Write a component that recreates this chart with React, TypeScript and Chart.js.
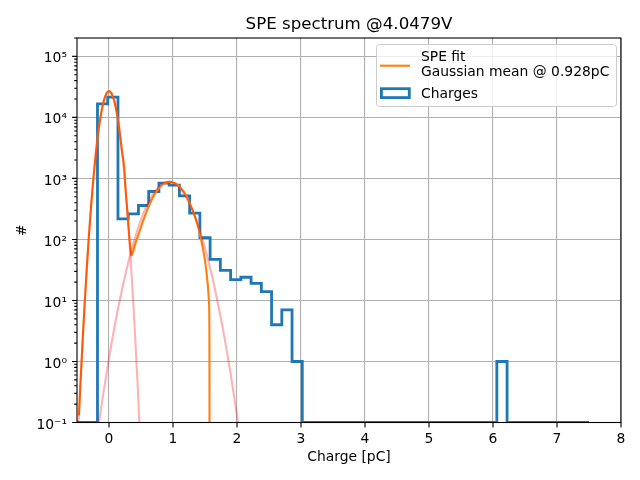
import { useEffect, useRef } from "react";
import { Chart, registerables } from "chart.js";

Chart.register(...registerables);

// ---------- data ----------
const binEdges = [
  -0.5, -0.34, -0.18, -0.02, 0.14, 0.3, 0.46, 0.62, 0.78, 0.94, 1.1, 1.26, 1.42,
  1.58, 1.74, 1.9, 2.06, 2.22, 2.38, 2.54, 2.7, 2.86, 3.02, 3.18, 3.34, 3.5, 3.66,
  3.82, 3.98, 4.14, 4.3, 4.46, 4.62, 4.78, 4.94, 5.1, 5.26, 5.42, 5.58, 5.74, 5.9,
  6.06, 6.22, 6.38, 6.54, 6.7, 6.86, 7.02, 7.18, 7.34, 7.5,
];
const binCounts = [
  0, 0, 16700, 21500, 218, 263, 360, 610, 838, 776, 516, 270, 107, 47, 31, 22, 24,
  19, 14, 4, 7, 1, 0, 0, 0, 0, 0, 0, 0, 0, 0, 0, 0, 0, 0, 0, 0, 0, 0, 0, 0, 1, 0, 0,
  0, 0, 0, 0, 0, 0,
];

const fitX = [
  -0.47, -0.44, -0.41, -0.38, -0.35, -0.32, -0.29, -0.26, -0.23, -0.2, -0.16, -0.12,
  -0.08, -0.04, 0, 0.04, 0.08, 0.12, 0.16, 0.2, 0.24, 0.26, 0.28, 0.3, 0.32, 0.34,
  0.355, 0.37, 0.4, 0.45, 0.5, 0.55, 0.6, 0.65, 0.7, 0.75, 0.8, 0.85, 0.9, 0.95, 1.0,
  1.05, 1.1, 1.15, 1.2, 1.25, 1.3, 1.35, 1.4, 1.45, 1.5, 1.53, 1.55, 1.563, 1.569,
  1.572,
];
const fitY = [
  0.13, 0.59, 2.4, 9, 30, 93, 255, 636, 1436, 2936, 6520, 12100, 18870, 24620, 26900,
  24620, 18870, 12100, 6520, 2940, 1440, 640, 355, 190, 100, 62, 55, 60, 78, 112,
  160, 225, 310, 410, 520, 630, 730, 810, 860, 880, 860, 810, 735, 640, 540, 420,
  315, 225, 150, 88, 45, 25, 15, 9, 3, 0.01,
];

const pedestalX = [
  -0.5, -0.47, -0.44, -0.41, -0.38, -0.35, -0.32, -0.29, -0.26, -0.23, -0.2, -0.16,
  -0.12, -0.08, -0.04, 0, 0.04, 0.08, 0.12, 0.16, 0.2, 0.23, 0.26, 0.29, 0.32, 0.35,
  0.38, 0.41, 0.44, 0.47, 0.5,
];
const pedestalY = [
  0.026, 0.13, 0.59, 2.4, 9, 30, 93, 255, 636, 1436, 2936, 6520, 12100, 18870,
  24620, 26900, 24620, 18870, 12100, 6520, 2936, 1436, 636, 255, 93, 30, 9, 2.4,
  0.59, 0.13, 0.026,
];

const speX = [
  -0.2, -0.16, -0.1, 0, 0.1, 0.2, 0.3, 0.4, 0.5, 0.6, 0.7, 0.8, 0.85, 0.9, 0.93,
  1.0, 1.05, 1.1, 1.2, 1.3, 1.4, 1.5, 1.6, 1.7, 1.8, 1.9, 2.0, 2.03, 2.06,
];
const speY = [
  0.048, 0.094, 0.25, 1.14, 4.4, 14.6, 41.6, 101, 212, 381, 586, 773, 839, 879, 880,
  847, 788, 705, 502, 307, 161, 72, 28, 9.2, 2.6, 0.63, 0.13, 0.08, 0.048,
];

const xTicks = [0, 1, 2, 3, 4, 5, 6, 7, 8];
const yDecades = [0.1, 1, 10, 100, 1000, 10000, 100000];
const yDecadeLabels = ["10⁻¹", "10⁰", "10¹", "10²", "10³", "10⁴", "10⁵"];

const TITLE = "SPE spectrum @4.0479V";
const X_LABEL = "Charge [pC]";
const Y_LABEL = "#";
const FIT_LABEL = ["SPE fit", "Gaussian mean @ 0.928pC"];
const HIST_LABEL = "Charges";

const X_MIN = -0.5;
const X_MAX = 8;
const Y_MIN = 0.1;
const Y_MAX = 2e5;

// ---------- styling ----------
const FONT = "DejaVu Sans";
const FS = 13.89;
const BLUE = "#1f77b4";
const ORANGE = "#ff7f0e";
const PINK = "rgba(255,0,0,0.3)";
const GRID = "#b0b0b0";

const minorYTicks: number[] = [];
yDecades.forEach((d) => {
  for (let k = 2; k <= 9; k++) {
    const v = k * d;
    if (v <= Y_MAX * 1.0001) minorYTicks.push(v);
  }
});
const isDecade = (v: number) =>
  yDecades.findIndex((d) => Math.abs(v - d) / d < 1e-6);

const mplPlugin = {
  id: "mplDecor",
  afterDraw(chart: any) {
    const { ctx, chartArea } = chart;
    const { left, right, top, bottom } = chartArea;
    const xs = chart.scales.x;
    const ys = chart.scales.y;
    ctx.save();
    // ticks
    ctx.strokeStyle = "#000";
    ctx.lineWidth = 1.1;
    ctx.beginPath();
    xTicks.forEach((v) => {
      const px = xs.getPixelForValue(v);
      ctx.moveTo(px, bottom);
      ctx.lineTo(px, bottom + 4.9);
    });
    yDecades.forEach((v) => {
      const py = ys.getPixelForValue(v);
      ctx.moveTo(left, py);
      ctx.lineTo(left - 4.9, py);
    });
    minorYTicks.forEach((v) => {
      const py = ys.getPixelForValue(v);
      ctx.moveTo(left, py);
      ctx.lineTo(left - 2.8, py);
    });
    ctx.stroke();
    // frame
    ctx.lineWidth = 1.1;
    ctx.strokeRect(left, top, right - left, bottom - top);

    // legend
    const bx = 376.5, by = 44.5, bw = 240, bh = 62, r = 3;
    ctx.beginPath();
    ctx.moveTo(bx + r, by);
    ctx.lineTo(bx + bw - r, by);
    ctx.quadraticCurveTo(bx + bw, by, bx + bw, by + r);
    ctx.lineTo(bx + bw, by + bh - r);
    ctx.quadraticCurveTo(bx + bw, by + bh, bx + bw - r, by + bh);
    ctx.lineTo(bx + r, by + bh);
    ctx.quadraticCurveTo(bx, by + bh, bx, by + bh - r);
    ctx.lineTo(bx, by + r);
    ctx.quadraticCurveTo(bx, by, bx + r, by);
    ctx.closePath();
    ctx.fillStyle = "rgba(255,255,255,0.8)";
    ctx.fill();
    ctx.strokeStyle = "#cccccc";
    ctx.lineWidth = 1;
    ctx.stroke();

    ctx.strokeStyle = ORANGE;
    ctx.lineWidth = 2.1;
    ctx.beginPath();
    ctx.moveTo(380, 65.7);
    ctx.lineTo(410, 65.7);
    ctx.stroke();

    ctx.strokeStyle = BLUE;
    ctx.lineWidth = 2.8;
    ctx.strokeRect(381.4, 88.7, 27.9, 8.9);

    ctx.fillStyle = "#000";
    ctx.font = `${FS}px "${FONT}"`;
    ctx.textBaseline = "alphabetic";
    ctx.textAlign = "left";
    ctx.fillText(FIT_LABEL[0], 421, 60.5);
    ctx.fillText(FIT_LABEL[1], 421, 76);
    ctx.fillText(HIST_LABEL, 421, 97.5);
    ctx.restore();
  },
};

export default function App() {
  const ref = useRef<HTMLCanvasElement | null>(null);

  useEffect(() => {
    if (!ref.current) return;
    const histPoints = binEdges.map((e, i) => ({
      x: e,
      y: Math.max(i < binCounts.length ? binCounts[i] : binCounts[binCounts.length - 1], Y_MIN),
    }));
    const fitPoints = fitX.map((x, i) => ({ x, y: fitY[i] }));
    const pedPoints = pedestalX.map((x, i) => ({ x, y: pedestalY[i] }));
    const spePoints = speX.map((x, i) => ({ x, y: speY[i] }));

    const tickFont = { family: FONT, size: FS };

    const chart = new Chart(ref.current, {
      type: "line",
      data: {
        datasets: [
          {
            label: "pedestal",
            data: pedPoints,
            borderColor: PINK,
            borderWidth: 2.1,
            pointRadius: 0,
            cubicInterpolationMode: "monotone",
            fill: false,
            order: 1,
          },
          {
            label: "spe",
            data: spePoints,
            borderColor: PINK,
            borderWidth: 2.1,
            pointRadius: 0,
            cubicInterpolationMode: "monotone",
            fill: false,
            order: 1,
          },
          {
            label: FIT_LABEL.join("\n"),
            data: fitPoints,
            borderColor: ORANGE,
            borderWidth: 2.1,
            pointRadius: 0,
            cubicInterpolationMode: "monotone",
            fill: false,
            order: 2,
          },
          {
            label: HIST_LABEL,
            data: histPoints,
            borderColor: BLUE,
            borderWidth: 2.8,
            pointRadius: 0,
            stepped: "before",
            borderJoinStyle: "miter",
            fill: false,
            order: 3,
          },
        ],
      },
      options: {
        animation: false,
        responsive: false,
        devicePixelRatio: 1,
        layout: { padding: { left: 0, right: 19, top: 0, bottom: 0 } },
        plugins: {
          legend: { display: false },
          tooltip: { enabled: false },
          title: {
            display: true,
            text: TITLE,
            fullSize: false,
            color: "#000",
            font: { family: FONT, size: 16.67, weight: "normal" },
            padding: { top: 14.5, bottom: 3.5 },
          },
        },
        scales: {
          x: {
            type: "linear",
            min: X_MIN,
            max: X_MAX,
            afterBuildTicks: (s: any) => {
              s.ticks = xTicks.map((v) => ({ value: v }));
            },
            afterFit: (s: any) => {
              s.height = 57.5;
            },
            grid: { color: GRID, lineWidth: 1.1, tickLength: 5, tickColor: "transparent" },
            border: { display: false },
            ticks: {
              color: "#000",
              font: tickFont,
              padding: 4,
              autoSkip: false,
              maxRotation: 0,
              callback: (v: any) => String(v),
            },
            title: {
              display: true,
              text: X_LABEL,
              color: "#000",
              font: tickFont,
              padding: { top: 0, bottom: 14.7 },
            },
          },
          y: {
            type: "logarithmic",
            min: Y_MIN,
            max: Y_MAX,
            afterBuildTicks: (s: any) => {
              s.ticks = [...yDecades, ...minorYTicks]
                .sort((a, b) => a - b)
                .map((v) => ({ value: v }));
            },
            afterFit: (s: any) => {
              s.width = 77;
            },
            grid: {
              color: (c: any) =>
                c.tick && isDecade(c.tick.value) >= 0 ? GRID : "transparent",
              lineWidth: 1.1,
              tickLength: 5,
              tickColor: "transparent",
            },
            border: { display: false },
            ticks: {
              color: "#000",
              font: tickFont,
              padding: 5,
              labelOffset: 2.5,
              autoSkip: false,
              callback: (v: any) => {
                const i = isDecade(Number(v));
                return i >= 0 ? yDecadeLabels[i] : "";
              },
            },
            title: {
              display: true,
              text: Y_LABEL,
              color: "#000",
              font: tickFont,
              padding: { top: 13.7, bottom: 0 },
            },
          },
        },
      },
      plugins: [mplPlugin],
    } as any);

    return () => chart.destroy();
  }, []);

  return (
    <div style={{ position: "absolute", left: 0, top: 0, width: 640, height: 480, background: "#fff" }}>
      <canvas ref={ref} width={640} height={480} style={{ display: "block" }} />
    </div>
  );
}
